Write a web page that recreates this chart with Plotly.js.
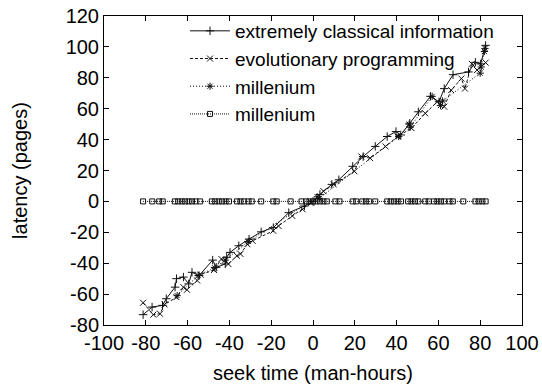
<!DOCTYPE html>
<html>
<head>
<meta charset="utf-8">
<script src="https://cdn.plot.ly/plotly-3.0.1.min.js"></script>
<style>html,body{margin:0;padding:0;background:#fff;}#chart{width:542px;height:389px;}</style>
</head>
<body>
<div id="chart"></div>
<script>
// Series names
const seriesNames = ["extremely classical information", "evolutionary programming", "millenium", "millenium"];

// Series 1: extremely classical information (+, solid)
const s1x = [-81.3,-77,-72,-70.2,-66,-65.3,-62,-59.5,-57.9,-54.5,-48,-46.3,-42,-41.3,-39.7,-35.5,-30.6,-24.8,-19,-11.6,-4.1,0,3.3,9,12.4,19,24,29.8,35.5,39.7,42,46.3,50.4,56.2,60.3,62.8,67,74.4,77.7,80.2,82.6];
const s1y = [-73.3,-68.4,-67.3,-63,-55.5,-50,-49,-53.4,-45.9,-48,-38,-42.7,-40.5,-36.2,-33,-28.7,-24.4,-19.7,-17,-7.3,-3,0,4.5,11,14,22.7,29,35.6,42,45.2,43,50.6,58,68,64.5,73,82,83.8,90,89,101];

// Series 2: evolutionary programming (x, dashed)
const s2x = [-81.3,-76.4,-73.2,-71,-65.3,-62,-60.3,-55.4,-53.7,-47.4,-43.8,-40.5,-36.4,-34.7,-31.4,-28.9,-19,-16.5,-9.9,-5,-0.8,5,9.9,19.8,23.1,27.3,34.7,40.5,47.1,53.7,59.5,62.8,66.1,71,72.7,76,78.5,82.6];
const s2y = [-65.6,-73.3,-72.7,-66.7,-62,-55.5,-57.2,-51.2,-47.4,-44.4,-37.3,-40.5,-35.2,-34,-27.7,-25.5,-19,-15.9,-9.4,-5.1,-0.9,6.6,11,19.5,29.1,28,35.6,42,47.4,57,64.5,61.3,72,79.5,73,89,85,89.8];

// Series 3: millenium (*, dotted)
const s3x = [-65,-55,-47,-42,-31,2,3,41,46,46.5,57,61,62,80,80.5,82,82.3];
const s3y = [-61,-48,-43,-38,-26,3,2,42,50,48,68,62,65,83,87,97,99];

// Series 4: millenium (squares, dotted) at zero
const s4x = [-81.3,-76.9,-73.6,-71.9,-66.1,-64.5,-62.8,-61.2,-59.5,-57.9,-56.2,-54,-48.4,-46.8,-45.1,-43.5,-41.8,-40.2,-36.4,-34.7,-33.1,-30.9,-29.3,-24.8,-19,-17.4,-10.7,-5.5,-3.3,-1.7,0,1.7,3.3,5,6.6,10.7,12.7,19,20.7,23.6,25.3,26.9,29.8,35.5,37.2,38.8,40.5,42.1,45.5,47.1,48.8,50.4,53.7,55.4,57.9,59.5,61.2,62.8,65.3,66.9,71.9,77.7,79.3,81,82.6];
const s4y = [0,0,0,0,0,0,0,0,0,0,0,0,0,0,0,0,0,0,0,0,0,0,0,0,0,0,0,0,0,0,0,0,0,0,0,0,0,0,0,0,0,0,0,0,0,0,0,0,0,0,0,0,0,0,0,0,0,0,0,0,0,0,0,0,0];

const xTicks = [-100,-80,-60,-40,-20,0,20,40,60,80,100];
const yTicks = [-80,-60,-40,-20,0,20,40,60,80,100,120];

const FONT = "Liberation Sans, Arial, sans-serif";

const traces = [
  {x: s1x, y: s1y, name: seriesNames[0], mode: "lines+markers",
   line: {color: "#111", width: 1}, marker: {symbol: "cross-thin-open", size: 6, color: "#111", line: {width: 1, color: "#111"}}},
  {x: s2x, y: s2y, name: seriesNames[1], mode: "lines+markers",
   line: {color: "#111", width: 1, dash: "3px,2px"}, marker: {symbol: "x-thin-open", size: 6, color: "#111", line: {width: 1, color: "#111"}}},
  {x: s3x, y: s3y, name: seriesNames[2], mode: "lines+markers",
   line: {color: "#111", width: 1, dash: "1px,2px"}, marker: {symbol: "asterisk-open", size: 6, color: "#111", line: {width: 1, color: "#111"}}},
  {x: s4x, y: s4y, name: seriesNames[3], mode: "lines+markers",
   line: {color: "#111", width: 1, dash: "1px,1px"}, marker: {symbol: "square-open", size: 5, color: "#111", line: {width: 1, color: "#111"}}}
];

const axisCommon = {
  showgrid: false, zeroline: false, showline: true, linecolor: "#000", linewidth: 1,
  mirror: "ticks", ticks: "inside", ticklen: 5, tickcolor: "#000", tickwidth: 1,
  tickfont: {family: FONT, size: 20, color: "#000"}
};

const layout = {
  width: 542, height: 389,
  margin: {l: 104, r: 20, t: 13, b: 64},
  paper_bgcolor: "#fff", plot_bgcolor: "#fff",
  font: {family: FONT, size: 20, color: "#000"},
  xaxis: Object.assign({}, axisCommon, {range: [-100, 100], tickvals: xTicks, ticktext: xTicks.map(String),
    title: {text: "seek time (man-hours)", font: {family: FONT, size: 20}, standoff: 12}}),
  yaxis: Object.assign({}, axisCommon, {range: [-80, 120], tickvals: yTicks, ticktext: yTicks.map(String),
    title: {text: "latency (pages)", font: {family: FONT, size: 20}, standoff: 32}}),
  showlegend: true,
  legend: {x: 0.945, xanchor: "right", y: 1.013, yanchor: "top", bgcolor: "rgba(0,0,0,0)",
    font: {family: FONT, size: 19, color: "#000"}, itemwidth: 40, tracegroupgap: 0}
};

Plotly.newPlot("chart", traces, layout, {displayModeBar: false, staticPlot: true});
</script>
</body>
</html>
